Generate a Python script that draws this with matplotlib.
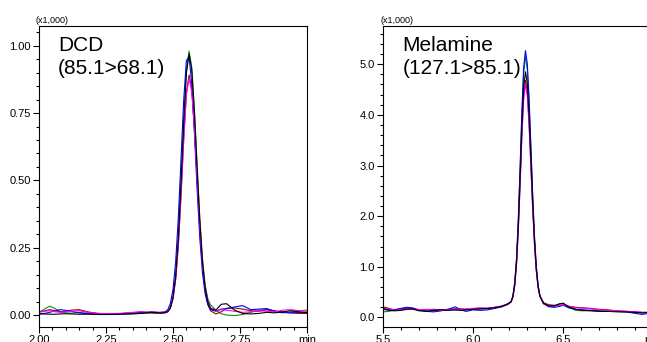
import matplotlib
matplotlib.use("Agg")
import matplotlib.pyplot as plt
from matplotlib.ticker import MultipleLocator, FixedLocator

plt.rcParams["font.family"] = ["Liberation Sans", "DejaVu Sans"]

# --- DCD (85.1>68.1), time in min, intensity x1,000 ---
dcd_time = [2.00, 2.02, 2.04, 2.06, 2.08, 2.10, 2.12, 2.15, 2.18, 2.22,
            2.26, 2.30, 2.34, 2.38, 2.42, 2.45, 2.47, 2.48, 2.49, 2.50,
            2.51, 2.52, 2.53, 2.54, 2.55, 2.56, 2.57, 2.58, 2.59, 2.60,
            2.61, 2.62, 2.63, 2.64, 2.66, 2.68, 2.70, 2.73, 2.76, 2.79,
            2.82, 2.85, 2.88, 2.91, 2.94, 2.97, 3.00]
dcd_green = [0.010, 0.022, 0.033, 0.024, 0.012, 0.008, 0.007, 0.010, 0.006, 0.004,
             0.003, 0.003, 0.004, 0.006, 0.008, 0.007, 0.009, 0.014, 0.030, 0.068,
             0.149, 0.290, 0.495, 0.722, 0.910, 0.980, 0.920, 0.762, 0.557, 0.362,
             0.210, 0.112, 0.060, 0.038, 0.018, 0.005, 0.000, -0.002, 0.002, 0.010,
             0.018, 0.020, 0.012, 0.008, 0.012, 0.016, 0.018]
dcd_black = [0.004, 0.004, 0.003, 0.003, 0.004, 0.005, 0.004, 0.003, 0.003, 0.002,
             0.002, 0.003, 0.004, 0.006, 0.010, 0.008, 0.009, 0.012, 0.025, 0.064,
             0.144, 0.285, 0.487, 0.714, 0.898, 0.970, 0.910, 0.752, 0.546, 0.350,
             0.198, 0.100, 0.048, 0.024, 0.018, 0.040, 0.042, 0.018, 0.006, 0.004,
             0.006, 0.010, 0.008, 0.012, 0.016, 0.012, 0.008]
dcd_blue = [0.004, 0.006, 0.010, 0.016, 0.020, 0.017, 0.014, 0.008, 0.005, 0.004,
            0.004, 0.005, 0.006, 0.008, 0.012, 0.010, 0.012, 0.019, 0.042, 0.095,
            0.198, 0.364, 0.582, 0.800, 0.945, 0.960, 0.857, 0.674, 0.467, 0.285,
            0.156, 0.078, 0.038, 0.020, 0.014, 0.022, 0.024, 0.030, 0.035, 0.020,
            0.022, 0.024, 0.014, 0.010, 0.008, 0.010, 0.010]
dcd_red = [0.012, 0.015, 0.020, 0.016, 0.012, 0.014, 0.018, 0.020, 0.012, 0.006,
           0.004, 0.005, 0.008, 0.010, 0.008, 0.006, 0.008, 0.012, 0.026, 0.062,
           0.134, 0.262, 0.448, 0.656, 0.826, 0.891, 0.836, 0.692, 0.504, 0.325,
           0.184, 0.092, 0.040, 0.016, 0.004, 0.012, 0.025, 0.026, 0.022, 0.016,
           0.014, 0.020, 0.016, 0.010, 0.008, 0.006, 0.006]
dcd_magenta = [0.010, 0.014, 0.016, 0.012, 0.010, 0.012, 0.014, 0.016, 0.010, 0.006,
               0.005, 0.006, 0.009, 0.013, 0.010, 0.008, 0.009, 0.013, 0.028, 0.062,
               0.133, 0.259, 0.444, 0.650, 0.818, 0.880, 0.828, 0.690, 0.505, 0.330,
               0.190, 0.100, 0.050, 0.026, 0.016, 0.020, 0.018, 0.014, 0.010, 0.012,
               0.016, 0.014, 0.012, 0.018, 0.020, 0.016, 0.014]

# --- Melamine (127.1>85.1) ---
mel_time = [5.50, 5.53, 5.56, 5.60, 5.63, 5.66, 5.70, 5.74, 5.78, 5.82,
            5.86, 5.90, 5.93, 5.96, 6.00, 6.04, 6.08, 6.12, 6.16, 6.19,
            6.21, 6.22, 6.23, 6.24, 6.25, 6.26, 6.27, 6.28, 6.29, 6.30,
            6.31, 6.32, 6.33, 6.34, 6.35, 6.36, 6.37, 6.39, 6.42, 6.45,
            6.48, 6.50, 6.53, 6.57, 6.61, 6.65, 6.70, 6.75, 6.80, 6.85,
            6.90, 6.94, 6.97, 7.00]
mel_green = [0.11, 0.12, 0.14, 0.17, 0.19, 0.18, 0.14, 0.13, 0.13, 0.14,
             0.15, 0.15, 0.14, 0.15, 0.16, 0.17, 0.17, 0.20, 0.23, 0.27,
             0.31, 0.42, 0.66, 1.13, 1.89, 2.89, 3.97, 4.83, 5.15, 4.90,
             4.23, 3.32, 2.38, 1.58, 1.00, 0.63, 0.43, 0.29, 0.23, 0.22,
             0.27, 0.28, 0.20, 0.14, 0.13, 0.14, 0.13, 0.12, 0.12, 0.11,
             0.10, 0.09, 0.10, 0.12]
mel_black = [0.17, 0.15, 0.13, 0.14, 0.16, 0.17, 0.13, 0.12, 0.14, 0.15,
             0.14, 0.15, 0.14, 0.15, 0.16, 0.17, 0.18, 0.19, 0.22, 0.26,
             0.31, 0.41, 0.64, 1.08, 1.79, 2.73, 3.75, 4.55, 4.85, 4.62,
             3.99, 3.13, 2.25, 1.50, 0.96, 0.61, 0.42, 0.28, 0.23, 0.23,
             0.27, 0.28, 0.21, 0.16, 0.14, 0.13, 0.12, 0.12, 0.11, 0.11,
             0.10, 0.09, 0.10, 0.11]
mel_blue = [0.16, 0.14, 0.15, 0.18, 0.20, 0.19, 0.15, 0.12, 0.11, 0.13,
            0.16, 0.21, 0.15, 0.12, 0.15, 0.14, 0.15, 0.18, 0.21, 0.26,
            0.31, 0.42, 0.68, 1.15, 1.93, 2.96, 4.07, 4.94, 5.27, 5.01,
            4.33, 3.39, 2.43, 1.62, 1.02, 0.64, 0.43, 0.27, 0.21, 0.20,
            0.22, 0.24, 0.19, 0.16, 0.15, 0.14, 0.13, 0.12, 0.12, 0.11,
            0.08, 0.06, 0.08, 0.11]
mel_red = [0.21, 0.18, 0.15, 0.17, 0.18, 0.16, 0.15, 0.15, 0.16, 0.15,
           0.16, 0.17, 0.17, 0.16, 0.17, 0.18, 0.18, 0.20, 0.22, 0.26,
           0.31, 0.40, 0.62, 1.05, 1.73, 2.64, 3.62, 4.39, 4.68, 4.45,
           3.85, 3.02, 2.18, 1.46, 0.93, 0.60, 0.43, 0.29, 0.25, 0.24,
           0.24, 0.25, 0.22, 0.20, 0.19, 0.18, 0.16, 0.15, 0.13, 0.12,
           0.11, 0.10, 0.10, 0.11]
mel_magenta = [0.18, 0.17, 0.14, 0.15, 0.17, 0.16, 0.15, 0.16, 0.15, 0.14,
               0.15, 0.16, 0.16, 0.17, 0.18, 0.19, 0.18, 0.20, 0.22, 0.25,
               0.30, 0.40, 0.62, 1.03, 1.70, 2.60, 3.56, 4.31, 4.60, 4.38,
               3.78, 2.97, 2.14, 1.43, 0.92, 0.59, 0.42, 0.27, 0.24, 0.23,
               0.24, 0.25, 0.22, 0.19, 0.18, 0.17, 0.15, 0.14, 0.13, 0.12,
               0.11, 0.10, 0.10, 0.11]

colors = {"green": "#108a10", "red": "#9a0000", "blue": "#0000ff",
          "magenta": "#ff00ff", "black": "#000000"}

fig = plt.figure(figsize=(6.47, 3.42), dpi=100)
ax1 = fig.add_axes([0.0603, 0.0447, 0.4142, 0.879])
ax2 = fig.add_axes([0.5924, 0.0447, 0.4173, 0.879])


def draw(ax, t, series):
    for key in ["green", "red", "blue", "magenta", "black"]:
        ax.plot(t, series[key], color=colors[key], lw=0.8)


draw(ax1, dcd_time, {"green": dcd_green, "red": dcd_red, "blue": dcd_blue,
                     "magenta": dcd_magenta, "black": dcd_black})
draw(ax2, mel_time, {"green": mel_green, "red": mel_red, "blue": mel_blue,
                     "magenta": mel_magenta, "black": mel_black})

ax1.set_xlim(2.0, 3.0)
ax1.set_ylim(-0.0434, 1.073)
ax1.xaxis.set_major_locator(FixedLocator([2.0, 2.25, 2.5, 2.75, 3.0]))
ax1.set_xticklabels(["2.00", "2.25", "2.50", "2.75", "min"])
ax1.xaxis.set_minor_locator(MultipleLocator(0.05))
ax1.yaxis.set_major_locator(FixedLocator([0.0, 0.25, 0.5, 0.75, 1.0]))
ax1.set_yticklabels(["0.00", "0.25", "0.50", "0.75", "1.00"])
ax1.yaxis.set_minor_locator(MultipleLocator(0.05))

ax2.set_xlim(5.5, 7.0)
ax2.set_ylim(-0.183, 5.753)
ax2.xaxis.set_major_locator(FixedLocator([5.5, 6.0, 6.5, 7.0]))
ax2.set_xticklabels(["5.5", "6.0", "6.5", "min"])
ax2.xaxis.set_minor_locator(MultipleLocator(0.1))
ax2.yaxis.set_major_locator(FixedLocator([0, 1, 2, 3, 4, 5]))
ax2.set_yticklabels(["0.0", "1.0", "2.0", "3.0", "4.0", "5.0"])
ax2.yaxis.set_minor_locator(MultipleLocator(0.2))

for ax in (ax1, ax2):
    for s in ax.spines.values():
        s.set_linewidth(0.8)
    ax.tick_params(which="major", direction="out", length=4, width=0.8,
                   labelsize=8, pad=2)
    ax.tick_params(which="minor", direction="out", length=2.5, width=0.8)
    ax.text(-0.012, 1.003, "(x1,000)", transform=ax.transAxes,
            fontsize=6.5, ha="left", va="bottom")

ax1.text(0.071, 0.968, "DCD\n(85.1>68.1)", transform=ax1.transAxes,
         fontsize=15, ha="left", va="top", linespacing=1.3)
ax2.text(0.072, 0.968, "Melamine\n(127.1>85.1)", transform=ax2.transAxes,
         fontsize=15, ha="left", va="top", linespacing=1.3)

fig.savefig("out.png", dpi=100)
